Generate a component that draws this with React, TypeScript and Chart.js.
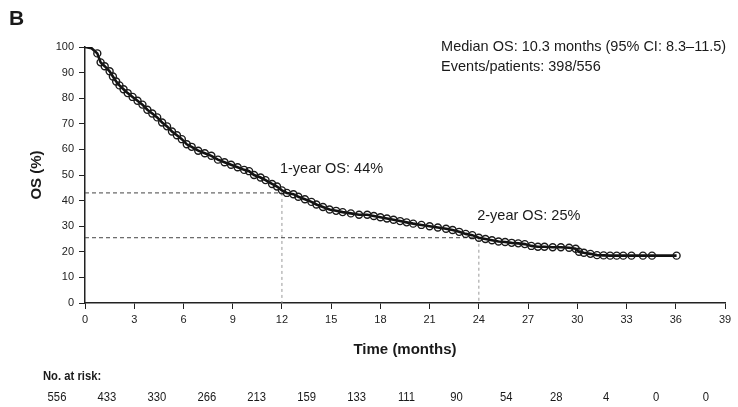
import React, { useEffect, useRef } from "react";
import { Chart, registerables } from "chart.js";

Chart.register(...registerables);

// Kaplan–Meier overall survival curve
const timeMonths = [
  0, 0.4, 0.75, 0.95, 1.2, 1.5, 1.7, 1.9, 2.1, 2.35, 2.6, 2.9, 3.2, 3.5, 3.8, 4.1, 4.4, 4.7,
  5.0, 5.3, 5.6, 5.9, 6.2, 6.5, 6.9, 7.3, 7.7, 8.1, 8.5, 8.9, 9.3, 9.7, 10.0, 10.3, 10.7,
  11.0, 11.4, 11.7, 12.0, 12.3, 12.7, 13.0, 13.4, 13.8, 14.1, 14.5, 14.9, 15.3, 15.7, 16.2,
  16.7, 17.2, 17.6, 18.0, 18.4, 18.8, 19.2, 19.6, 20.0, 20.5, 21.0, 21.5, 22.0, 22.4, 22.8,
  23.2, 23.6, 24.0, 24.4, 24.8, 25.2, 25.6, 26.0, 26.4, 26.8, 27.2, 27.6, 28.0, 28.5, 29.0,
  29.5, 29.9, 30.1, 30.4, 30.8, 31.2, 31.6, 32.0, 32.4, 32.8, 33.3, 34.0, 34.55, 36.05,
];
const osPercent = [
  100, 99.5, 97.5, 94, 92.5, 90.5, 88.5, 86.5, 85, 83.5, 82, 80.5, 79, 77.5, 75.5, 74, 72.5, 70.5,
  69, 67, 65.5, 64, 62, 61, 59.5, 58.5, 57.5, 56, 55, 54, 53, 52, 51.5, 50, 49,
  48, 46.5, 45.5, 44, 43, 42.5, 41.5, 40.5, 39.5, 38.5, 37.5, 36.5, 36, 35.5, 35,
  34.5, 34.5, 34, 33.5, 33, 32.5, 32, 31.5, 31, 30.5, 30, 29.5, 29, 28.5, 27.8,
  27, 26.5, 25.5, 25, 24.5, 24, 23.8, 23.5, 23.3, 23, 22.3, 22, 22, 21.8, 21.8,
  21.6, 21.2, 20, 19.6, 19.2, 18.7, 18.6, 18.5, 18.5, 18.5, 18.5, 18.5, 18.5, 18.5,
];

const xTickStep = 3;
const xMax = 39;
const yTickStep = 10;
const yMax = 100;

const oneYearMonth = 12;
const oneYearOS = 43;
const twoYearMonth = 24;
const twoYearOS = 25.5;

const atRiskCounts = [556, 433, 330, 266, 213, 159, 133, 111, 90, 54, 28, 4, 0, 0];

const panelLabel = "B";
const medianText = "Median OS: 10.3 months (95% CI: 8.3\u201311.5)";
const eventsText = "Events/patients: 398/556";
const oneYearLabel = "1-year OS: 44%";
const twoYearLabel = "2-year OS: 25%";
const atRiskTitle = "No. at risk:";
const xTitle = "Time (months)";
const yTitle = "OS (%)";

const SANS = "'Liberation Sans', Arial, sans-serif";

export default function App() {
  const ref = useRef<HTMLCanvasElement | null>(null);

  useEffect(() => {
    const canvas = ref.current;
    if (!canvas) return;

    const annotations = {
      id: "annotations",
      afterDraw(chart: any) {
        const { ctx, scales } = chart;
        const xs = scales.x;
        const ys = scales.y;
        ctx.save();
        ctx.fillStyle = "#1a1a1a";
        ctx.textBaseline = "middle";
        ctx.textAlign = "left";

        ctx.font = `bold 21px ${SANS}`;
        ctx.fillText(panelLabel, 9, 19);

        ctx.font = `14.5px ${SANS}`;
        ctx.fillText(medianText, xs.getPixelForValue(21.7), ys.getPixelForValue(100.1));
        ctx.fillText(eventsText, xs.getPixelForValue(21.7), ys.getPixelForValue(92));
        ctx.fillText(oneYearLabel, xs.getPixelForValue(11.88), ys.getPixelForValue(52.2));
        ctx.fillText(twoYearLabel, xs.getPixelForValue(23.9), ys.getPixelForValue(33.8));

        // narrow-looking text for the risk table
        const squeeze = 0.9;
        ctx.font = `bold 12.5px ${SANS}`;
        ctx.save();
        ctx.translate(43, 377);
        ctx.scale(squeeze, 1);
        ctx.fillText(atRiskTitle, 0, 0);
        ctx.restore();

        ctx.font = `12.5px ${SANS}`;
        ctx.textAlign = "center";
        const x0 = xs.left - 28;
        const step = (xs.width + 9) / (atRiskCounts.length - 1);
        atRiskCounts.forEach((n, i) => {
          ctx.save();
          ctx.translate(x0 + i * step, 398);
          ctx.scale(squeeze, 1);
          ctx.fillText(String(n), 0, 0);
          ctx.restore();
        });
        ctx.restore();
      },
    };

    const refLine = (pts: { x: number; y: number }[], color: string, dash: number[]) => ({
      type: "line" as const,
      data: pts,
      borderColor: color,
      borderWidth: 1,
      borderDash: dash,
      pointRadius: 0,
      fill: false,
    });

    const chart = new Chart(canvas, {
      type: "line",
      data: {
        datasets: [
          {
            data: timeMonths.map((t, i) => ({ x: t, y: osPercent[i] })),
            borderColor: "#111",
            borderWidth: 2.6,
            pointRadius: (c: any) => (c.dataIndex < 2 ? 0 : 3.5),
            pointBorderWidth: 1.4,
            pointBorderColor: "#1a1a1a",
            pointBackgroundColor: "rgba(0,0,0,0)",
            tension: 0,
            fill: false,
          },
          refLine([{ x: 0, y: oneYearOS }, { x: oneYearMonth, y: oneYearOS }], "#444", [4, 3]),
          refLine([{ x: 0, y: twoYearOS }, { x: twoYearMonth, y: twoYearOS }], "#444", [4, 3]),
          refLine([{ x: oneYearMonth, y: oneYearOS }, { x: oneYearMonth, y: 0 }], "#999", [3, 3]),
          refLine([{ x: twoYearMonth, y: twoYearOS }, { x: twoYearMonth, y: 0 }], "#999", [3, 3]),
        ],
      },
      options: {
        responsive: false,
        animation: false,
        layout: { padding: { top: 47, right: 13, bottom: 44, left: 0 } },
        plugins: { legend: { display: false }, tooltip: { enabled: false } },
        scales: {
          x: {
            type: "linear",
            min: 0,
            max: xMax,
            afterFit: (s: any) => {
              s.height = 60;
            },
            ticks: {
              stepSize: xTickStep,
              autoSkip: false,
              maxRotation: 0,
              padding: 4,
              color: "#222",
              font: { family: SANS, size: 11 },
            },
            grid: { drawOnChartArea: false, drawTicks: true, tickLength: 6, color: "#222", lineWidth: 1 },
            border: { display: true, color: "#222", width: 1.5 },
            title: {
              display: true,
              text: xTitle,
              color: "#1a1a1a",
              font: { family: SANS, size: 15, weight: "bold" },
              padding: { top: 0, bottom: 4 },
            },
          },
          y: {
            type: "linear",
            min: 0,
            max: yMax,
            afterFit: (s: any) => {
              s.width = 85;
            },
            ticks: {
              stepSize: yTickStep,
              padding: 5,
              color: "#222",
              font: { family: SANS, size: 11 },
            },
            grid: { drawOnChartArea: false, drawTicks: true, tickLength: 6, color: "#222", lineWidth: 1 },
            border: { display: true, color: "#222", width: 1.5 },
            title: {
              display: true,
              text: yTitle,
              color: "#1a1a1a",
              font: { family: SANS, size: 15, weight: "bold" },
              padding: { top: 28, bottom: 0 },
            },
          },
        },
      },
      plugins: [annotations],
    });

    return () => chart.destroy();
  }, []);

  return (
    <div style={{ position: "absolute", left: 0, top: 0, width: 738, height: 407, background: "#fff" }}>
      <canvas ref={ref} width={738} height={407} style={{ display: "block" }} />
    </div>
  );
}
